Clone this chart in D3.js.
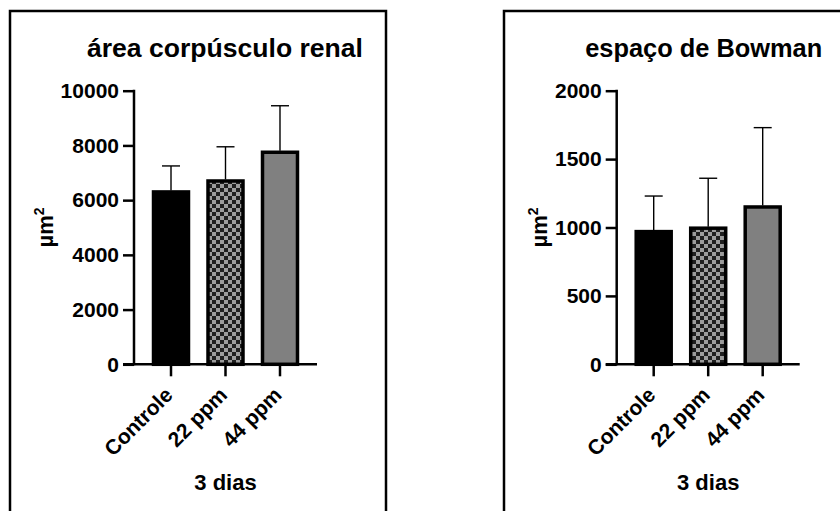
<!DOCTYPE html>
<html>
<head>
<meta charset="utf-8">
<script src="https://cdn.jsdelivr.net/npm/d3@7/dist/d3.min.js"></script>
<style>
  html, body { margin: 0; padding: 0; background: #fff; }
  svg { display: block; }
  text { font-family: "Liberation Sans", Arial, sans-serif; font-weight: bold; fill: #000; }
</style>
</head>
<body>
<svg id="chart" width="840" height="511"></svg>
<script>
// Groups measured at 3 days
const categories = ["Controle", "22 ppm", "44 ppm"];

// Renal corpuscle area (µm²): means and upper SD
const areaMeans = [6300, 6700, 7750];
const areaSD    = [950, 1250, 1700];
const areaTicks = [0, 2000, 4000, 6000, 8000, 10000];

// Bowman's space (µm²): means and upper SD
const bowmanMeans = [970, 995, 1150];
const bowmanSD    = [260, 365, 580];
const bowmanTicks = [0, 500, 1000, 1500, 2000];

const titles = ["área corpúsculo renal", "espaço de Bowman"];
const xLabel = "3 dias";

const svg = d3.select("#chart");

// checkerboard fill for the 22 ppm bar
const defs = svg.append("defs");
const pat = defs.append("pattern")
  .attr("id", "checker")
  .attr("patternUnits", "userSpaceOnUse")
  .attr("width", 8).attr("height", 8);
pat.append("rect").attr("width", 8).attr("height", 8).attr("fill", "#9c9c9c");
pat.append("rect").attr("width", 4).attr("height", 4).attr("fill", "#1f1f1f");
pat.append("rect").attr("x", 4).attr("y", 4).attr("width", 4).attr("height", 4).attr("fill", "#1f1f1f");

const fills = ["#000000", "url(#checker)", "#808080"];

function panel(opts) {
  const g = svg.append("g");
  const ox = opts.ox;

  // frame around the panel
  g.append("rect")
    .attr("x", opts.frameX).attr("y", 11)
    .attr("width", opts.frameW).attr("height", 540)
    .attr("fill", "none").attr("stroke", "#000").attr("stroke-width", 2.5);

  const axisX = ox + 134;
  const axisEnd = ox + 317;
  const y0 = 364.3, y1 = 90.7;

  const x = d3.scaleBand()
    .domain(categories)
    .range([axisX, axisEnd])
    .paddingInner(0.358)
    .paddingOuter(0.358);

  const y = d3.scaleLinear()
    .domain([0, d3.max(opts.ticks)])
    .range([y0, y1]);

  // title
  g.append("text")
    .attr("x", ox + opts.titleX)
    .attr("y", 57)
    .attr("text-anchor", "middle")
    .attr("font-size", 26)
    .attr("textLength", opts.titleLen)
    .attr("lengthAdjust", "spacingAndGlyphs")
    .text(opts.title);

  // bars
  g.selectAll("rect.bar")
    .data(categories)
    .join("rect")
    .attr("class", "bar")
    .attr("x", d => x(d))
    .attr("width", x.bandwidth())
    .attr("y", (d, i) => y(opts.means[i]))
    .attr("height", (d, i) => y(0) - y(opts.means[i]))
    .attr("fill", (d, i) => fills[i])
    .attr("stroke", "#000")
    .attr("stroke-width", 3.5);

  // upper error bars
  const eb = g.selectAll("g.err")
    .data(categories)
    .join("g")
    .attr("class", "err");
  eb.append("line")
    .attr("x1", d => x(d) + x.bandwidth() / 2)
    .attr("x2", d => x(d) + x.bandwidth() / 2)
    .attr("y1", (d, i) => y(opts.means[i]) - 1.5)
    .attr("y2", (d, i) => y(opts.means[i] + opts.sd[i]))
    .attr("stroke", "#000").attr("stroke-width", 1.4);
  eb.append("line")
    .attr("x1", d => x(d) + x.bandwidth() / 2 - 9)
    .attr("x2", d => x(d) + x.bandwidth() / 2 + 9)
    .attr("y1", (d, i) => y(opts.means[i] + opts.sd[i]))
    .attr("y2", (d, i) => y(opts.means[i] + opts.sd[i]))
    .attr("stroke", "#000").attr("stroke-width", 1.4);

  // y axis
  const yAxis = g.append("g")
    .attr("transform", `translate(${axisX},0)`)
    .call(d3.axisLeft(y).tickValues(opts.ticks).tickFormat(d3.format("d"))
      .tickSize(11).tickPadding(4).tickSizeOuter(0));
  yAxis.select(".domain").attr("stroke-width", 2.5).attr("d", `M0,${y0 + 1}V${y1 - 1}`);
  yAxis.selectAll(".tick line").attr("stroke-width", 2.5);
  yAxis.selectAll(".tick text")
    .attr("font-size", 21)
    .attr("font-family", "Liberation Sans, Arial, sans-serif")
    .attr("font-weight", "bold")
    .attr("fill", "#000");

  // x axis
  const xAxis = g.append("g")
    .attr("transform", `translate(0,${y0})`)
    .call(d3.axisBottom(x).tickSize(12).tickSizeOuter(0).tickFormat(""));
  xAxis.select(".domain").attr("stroke-width", 2.5).attr("d", `M${axisX - 11},0H${axisEnd}`);
  xAxis.selectAll(".tick line").attr("stroke-width", 2.5);

  // rotated category labels
  g.selectAll("text.cat")
    .data(categories)
    .join("text")
    .attr("class", "cat")
    .attr("text-anchor", "end")
    .attr("font-size", 21)
    .attr("transform", d => `translate(${x(d) + x.bandwidth() / 2 + 3},${y0 + 32}) rotate(-45)`)
    .text(d => d);

  // y axis title: µm with superscript 2
  const yl = g.append("text")
    .attr("text-anchor", "middle")
    .attr("font-size", 22)
    .attr("transform", `translate(${ox + opts.yLabX},${(y0 + y1) / 2}) rotate(-90)`);
  yl.append("tspan").text("µm");
  yl.append("tspan").attr("font-size", 14).attr("dy", -9).text("2");

  // x axis title
  g.append("text")
    .attr("x", x(categories[1]) + x.bandwidth() / 2)
    .attr("y", 490)
    .attr("text-anchor", "middle")
    .attr("font-size", 22)
    .text(xLabel);
}

panel({
  ox: 0, frameX: 10, frameW: 376,
  title: titles[0], titleLen: 276, titleX: 225,
  means: areaMeans, sd: areaSD, ticks: areaTicks,
  yLabX: 53
});

panel({
  ox: 482.7, frameX: 504, frameW: 400,
  title: titles[1], titleLen: 237, titleX: 221,
  means: bowmanMeans, sd: bowmanSD, ticks: bowmanTicks,
  yLabX: 64
});
</script>
</body>
</html>
